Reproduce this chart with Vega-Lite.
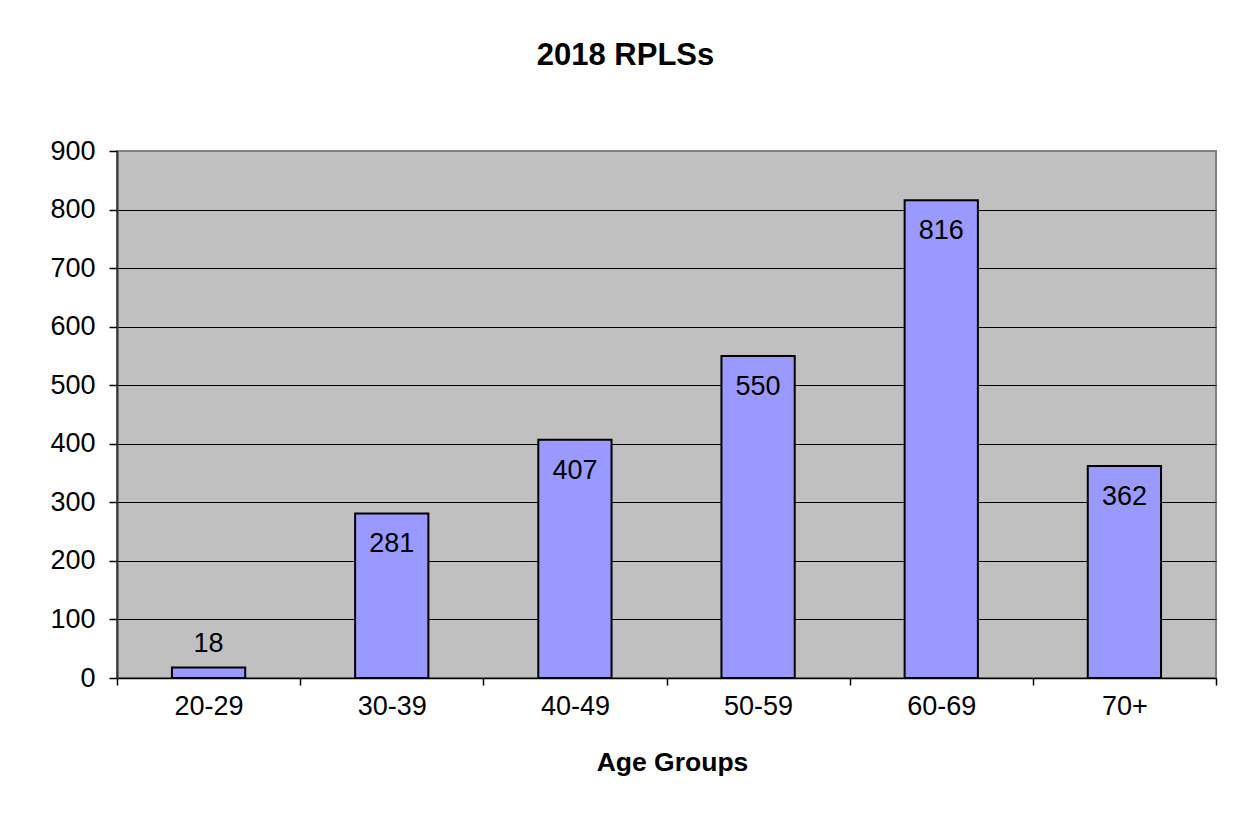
{
  "$schema": "https://vega.github.io/schema/vega-lite/v6.json",
  "width": 1099,
  "height": 527,
  "autosize": {"type": "none"},
  "padding": {"left": 117, "top": 151, "right": 23, "bottom": 139},
  "background": "white",
  "config": {
    "font": "Liberation Sans",
    "view": {"fill": "#C0C0C0", "stroke": "#808080", "strokeWidth": 2}
  },
  "title": {
    "text": "2018 RPLSs",
    "font": "Liberation Sans",
    "fontSize": 31,
    "fontWeight": "bold",
    "color": "black",
    "anchor": "middle",
    "dx": -41,
    "offset": 65
  },
  "data": {
    "values": [
      {"age": "20-29", "count": 18},
      {"age": "30-39", "count": 281},
      {"age": "40-49", "count": 407},
      {"age": "50-59", "count": 550},
      {"age": "60-69", "count": 816},
      {"age": "70+", "count": 362}
    ]
  },
  "encoding": {
    "x": {
      "field": "age",
      "type": "nominal",
      "sort": null,
      "scale": {"paddingInner": 0, "paddingOuter": 0},
      "axis": {
        "title": "Age Groups",
        "titleFont": "Liberation Sans",
        "titleFontSize": 26.5,
        "titleFontWeight": "bold",
        "titleColor": "black",
        "titlePadding": 30,
        "titleX": 555,
        "labelFont": "Liberation Sans",
        "labelFontSize": 27,
        "labelColor": "black",
        "labelAngle": 0,
        "labelPadding": 8,
        "tickBand": "extent",
        "tickSize": 7,
        "tickColor": "black",
        "tickWidth": 1.5,
        "domainColor": "black",
        "domainWidth": 1.5,
        "grid": false
      }
    },
    "y": {
      "field": "count",
      "type": "quantitative",
      "scale": {"domain": [0, 900], "nice": false},
      "axis": {
        "title": null,
        "values": [0, 100, 200, 300, 400, 500, 600, 700, 800, 900],
        "labelFont": "Liberation Sans",
        "labelFontSize": 27,
        "labelColor": "black",
        "labelPadding": 14,
        "tickSize": 8,
        "tickColor": "black",
        "tickWidth": 1.5,
        "domainColor": "#333333",
        "domainWidth": 2,
        "grid": true,
        "gridColor": {"condition": {"test": "datum.value === 900", "value": "#808080"}, "value": "black"},
        "gridWidth": 1,
        "gridOpacity": 1
      }
    }
  },
  "layer": [
    {
      "mark": {"type": "bar", "width": {"band": 0.4}, "fill": "#9999FF", "stroke": "black", "strokeWidth": 2}
    },
    {
      "transform": [{"filter": "datum.count >= 100"}],
      "mark": {"type": "text", "font": "Liberation Sans", "fontSize": 27, "color": "black", "baseline": "alphabetic", "dy": 39},
      "encoding": {"text": {"field": "count", "type": "quantitative"}}
    },
    {
      "transform": [{"filter": "datum.count < 100"}],
      "mark": {"type": "text", "font": "Liberation Sans", "fontSize": 27, "color": "black", "baseline": "alphabetic", "dy": -15},
      "encoding": {"text": {"field": "count", "type": "quantitative"}}
    }
  ]
}
